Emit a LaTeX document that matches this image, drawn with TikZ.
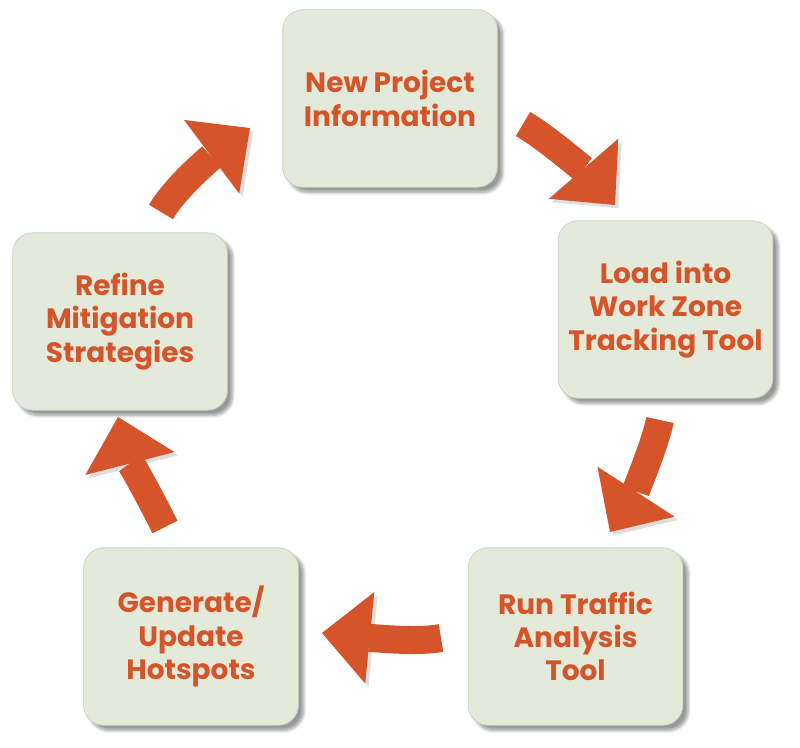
\documentclass[tikz,border=0pt]{standalone}
\usepackage{fontspec}
\setmainfont{Poppins}
\usetikzlibrary{arrows.meta,shadows.blur}
\definecolor{boxfill}{RGB}{227,234,217}
\definecolor{boxline}{RGB}{205,208,200}
\definecolor{rust}{RGB}{213,84,42}
\tikzset{
  stepbox/.style={
    rectangle,
    rounded corners=15pt,
    draw=boxline,
    line width=0.6pt,
    fill=boxfill,
    minimum width=161pt,
    minimum height=133pt,
    align=center,
    text=rust,
    font=\bfseries\fontsize{21}{25}\selectfont,
    blur shadow={shadow xshift=4pt, shadow yshift=-4pt, shadow blur steps=8}
  },
  cyclearrow/.style={
    preaction={draw=black!13, transform canvas={shift={(2.5pt,-2.5pt)}}},
    draw=rust,
    line width=21pt,
    -{Triangle[length=36pt,width=69pt,line width=0pt]}
  }
}

\begin{document}
\begin{tikzpicture}[x=0.75pt,y=-0.75pt]
  \useasboundingbox (0,0) rectangle (800,748);

  \node[stepbox] (info)   at (390,98.5)    {New Project\\Information};
  \node[stepbox] (load)   at (665.5,309.5) {Load into\\Work Zone\\Tracking Tool};
  \node[stepbox] (run)    at (575.5,636.5) {Run Traffic\\Analysis\\Tool};
  \node[stepbox] (hot)    at (191,636.5)   {Generate/\\Update\\Hotspots};
  \node[stepbox] (refine) at (120,321.5)   {Refine\\Mitigation\\Strategies};

  \coordinate (infoout)   at (523,124);
  \coordinate (loadin)    at (615,205);
  \coordinate (loadout)   at (660,420);
  \coordinate (runin)     at (610,532);
  \coordinate (runout)    at (441,638);
  \coordinate (hotin)     at (322,633);
  \coordinate (hotout)    at (165,527);
  \coordinate (refinein)  at (118,417);
  \coordinate (refineout) at (161,212);
  \coordinate (infoin)    at (250,128);

  \draw[cyclearrow] (infoout) .. controls (549,139) and (589,175) .. (loadin);
  \draw[cyclearrow] (loadout) .. controls (654,449) and (632,498) .. (runin);
  \draw[cyclearrow] (runout) .. controls (416,643) and (362,637) .. (hotin);
  \draw[cyclearrow] (hotout) .. controls (154,505) and (128,456) .. (refinein);
  \draw[cyclearrow] (refineout) .. controls (176,186) and (214,155) .. (infoin);
\end{tikzpicture}
\end{document}
